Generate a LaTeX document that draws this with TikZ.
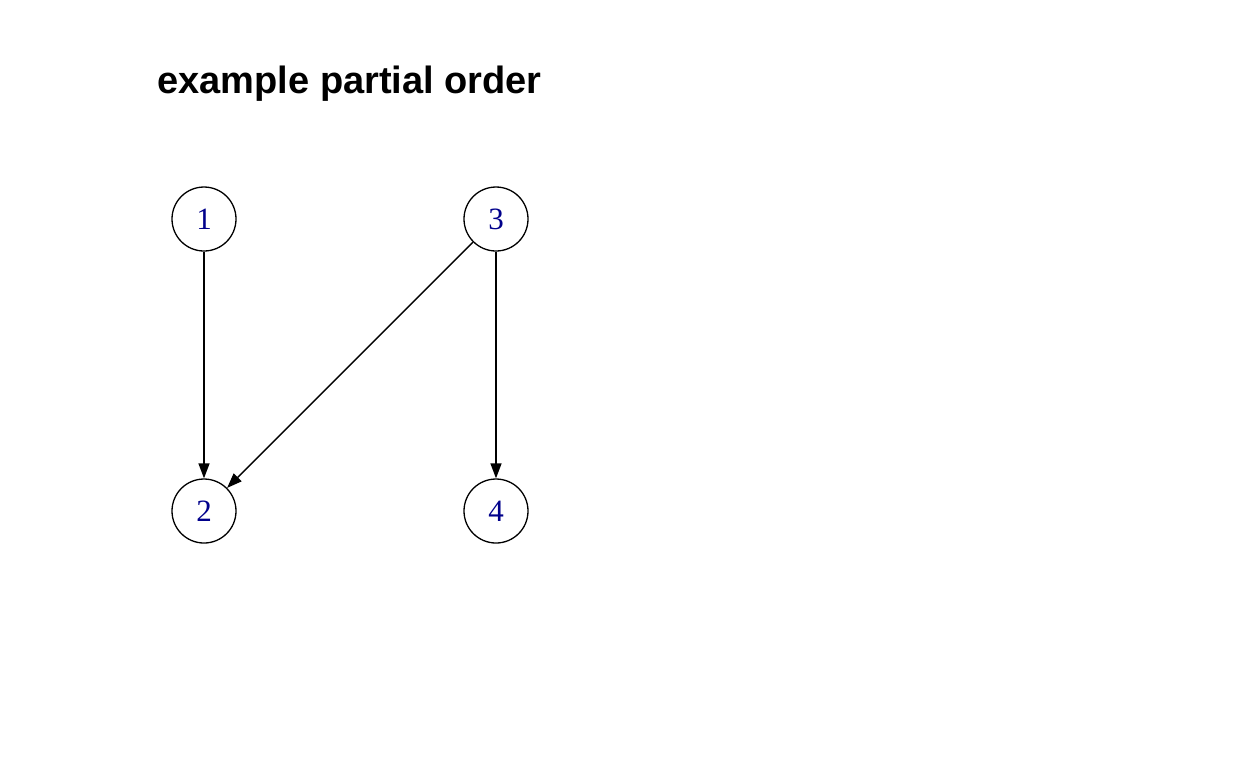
\documentclass[tikz,border=0pt]{standalone}
\usepackage{fontspec}
\setmainfont{Liberation Serif}
\setsansfont{Liberation Sans}
\usetikzlibrary{arrows.meta}
\definecolor{labelblue}{RGB}{0,0,139}
\begin{document}
\begin{tikzpicture}[x=0.5pt,y=-0.5pt]
                    \tikzset{every po node/.style={circle, draw, line width=0.65pt, minimum size=32pt, inner sep=0pt, text=labelblue, font=\fontsize{15.5}{16}\selectfont}}
                    \tikzset{po edge/.style={line width=0.7pt, -{Triangle[length=7.5pt,width=5.5pt]}}}
                    \useasboundingbox (0,0) rectangle (1248,768);
                    \node[anchor=base west, inner sep=0pt, font=\sffamily\bfseries\fontsize{19}{22}\selectfont] (title) at (157,93) {example partial order};
                    \node[every po node] (one) at (204,219) {1};
                    \node[every po node] (two) at (204,511) {2};
                    \node[every po node] (three) at (496,219) {3};
                    \node[every po node] (four) at (496,511) {4};
                    \draw[po edge] (one) -- (two);
                    \draw[po edge] (three) -- (two);
                    \draw[po edge] (three) -- (four);
                    \end{tikzpicture}
\end{document}
